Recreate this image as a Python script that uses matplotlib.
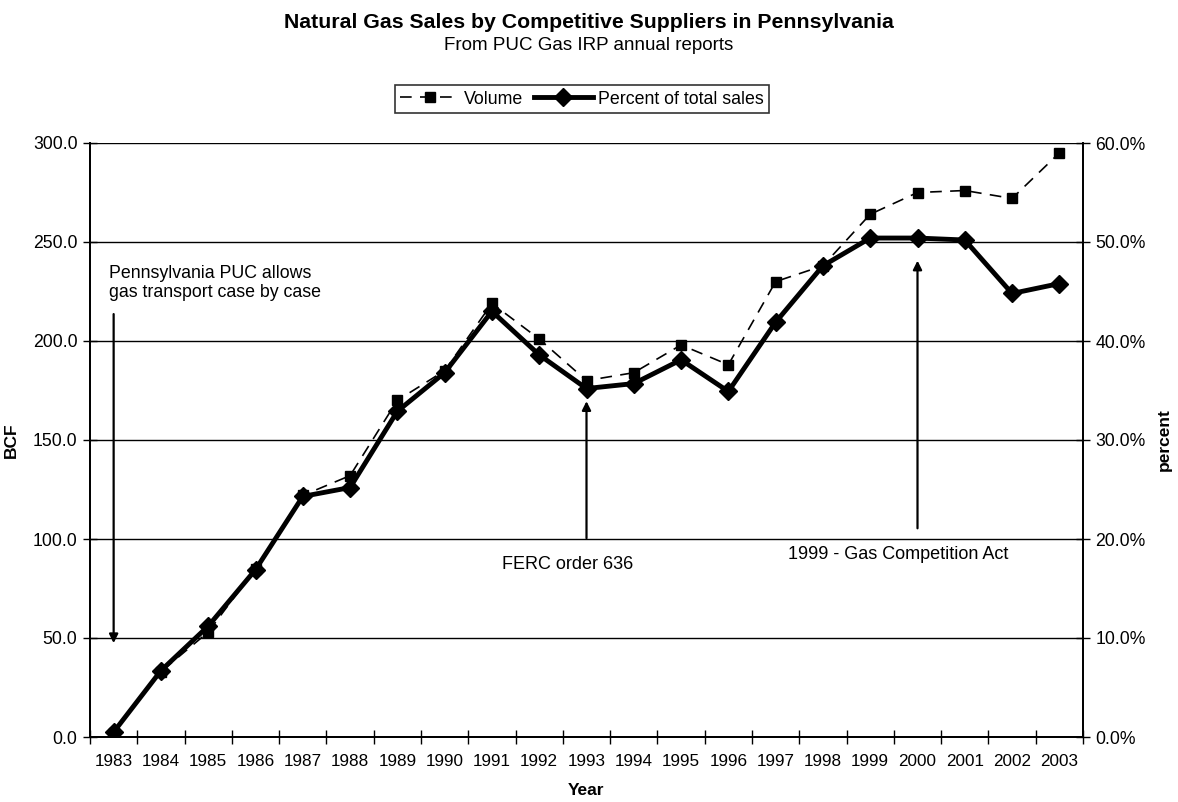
import matplotlib
matplotlib.use('Agg')
import matplotlib.pyplot as plt
from matplotlib.ticker import MultipleLocator, FixedLocator

plt.rcParams['font.family'] = ['Liberation Sans', 'DejaVu Sans']

years = ['1983', '1984', '1985', '1986', '1987', '1988', '1989', '1990', '1991', '1992',
         '1993', '1994', '1995', '1996', '1997', '1998', '1999', '2000', '2001', '2002', '2003']
volume_bcf = [2, 33, 53, 85, 122, 132, 170, 185, 219, 201,
              180, 184, 198, 188, 230, 238, 264, 275, 276, 272, 295]
percent_total = [0.5, 6.7, 11.2, 16.9, 24.3, 25.2, 32.9, 36.8, 43.0, 38.6,
                 35.2, 35.7, 38.1, 34.9, 41.9, 47.6, 50.4, 50.4, 50.2, 44.8, 45.8]

x = list(range(len(years)))

fig = plt.figure(figsize=(11.78, 8.02), dpi=100)
ax = fig.add_axes([90 / 1178, 1 - 737 / 802, 993 / 1178, 594 / 802])
ax2 = ax.twinx()

# Линии
ax.plot(x, volume_bcf, color='black', linestyle=(0, (7, 5)), linewidth=1.2,
        marker='s', markersize=7, label='Volume', zorder=3)
ax2.plot(x, percent_total, color='black', linestyle='-', linewidth=3.5,
         marker='D', markersize=9, label='Percent of total sales', zorder=3)

ax.set_xlim(-0.5, len(years) - 0.5)
ax.set_ylim(0, 300)
ax2.set_ylim(0, 60)

ax.yaxis.set_major_locator(MultipleLocator(50))
ax2.yaxis.set_major_locator(MultipleLocator(10))
ax.set_yticklabels([f'{v:.1f}' for v in ax.get_yticks()])
ax2.set_yticklabels([f'{v:.1f}%' for v in ax2.get_yticks()])

ax.set_xticks(x)
ax.set_xticklabels(years)
ax.tick_params(axis='x', which='major', length=0, pad=12, labelsize=12.3)
ax.xaxis.set_minor_locator(FixedLocator([i + 0.5 for i in range(-1, len(years))]))
ax.tick_params(axis='x', which='minor', length=10, direction='inout', width=1)
ax.tick_params(axis='y', length=10, direction='inout', width=1, labelsize=12.7, pad=4)
ax2.tick_params(axis='y', length=10, direction='inout', width=1, labelsize=12.7, pad=4)

ax.grid(axis='y', color='black', linewidth=1)
ax.set_axisbelow(True)
ax.spines['top'].set_visible(False)
ax2.spines['top'].set_visible(False)
for sp in list(ax.spines.values()) + list(ax2.spines.values()):
    sp.set_linewidth(1.3)

ax.set_xlabel('Year', fontsize=12.5, fontweight='bold', labelpad=10)
ax.set_ylabel('BCF', fontsize=12.5, fontweight='bold', labelpad=10)
ax2.set_ylabel('percent', fontsize=12.5, fontweight='bold', labelpad=8)

# Заголовки
fig.text(0.5, 1 - 22 / 802, 'Natural Gas Sales by Competitive Suppliers in Pennsylvania',
         ha='center', va='center', fontsize=15.3, fontweight='bold')
fig.text(0.5, 1 - 46 / 802, 'From PUC Gas IRP annual reports',
         ha='center', va='center', fontsize=13.5)

# Аннотации
arrow = dict(arrowstyle='-|>', color='black', lw=1.6, mutation_scale=13)
ax.annotate('', xy=(0, 46), xytext=(0, 215), arrowprops=arrow)
ax.text(-0.1, 229.5, 'Pennsylvania PUC allows\ngas transport case by case',
        ha='left', va='center', fontsize=12.8, linespacing=1.15)
ax.annotate('', xy=(10, 171), xytext=(10, 99), arrowprops=arrow)
ax.text(9.6, 87, 'FERC order 636', ha='center', va='center', fontsize=13)
ax.annotate('', xy=(17, 242), xytext=(17, 104), arrowprops=arrow)
ax.text(16.6, 92, '1999 - Gas Competition Act', ha='center', va='center', fontsize=13)

# Легенда
h1, l1 = ax.get_legend_handles_labels()
h2, l2 = ax2.get_legend_handles_labels()
leg = fig.legend(h1 + h2, l1 + l2, loc='center', bbox_to_anchor=(582 / 1178, 1 - 99 / 802),
                 ncol=2, fontsize=12.8, frameon=True, fancybox=False, edgecolor='black',
                 handlelength=3.3, handletextpad=0.3, columnspacing=0.6, borderpad=0.3)
leg.get_frame().set_linewidth(1.2)

fig.savefig('out.png', dpi=100)
